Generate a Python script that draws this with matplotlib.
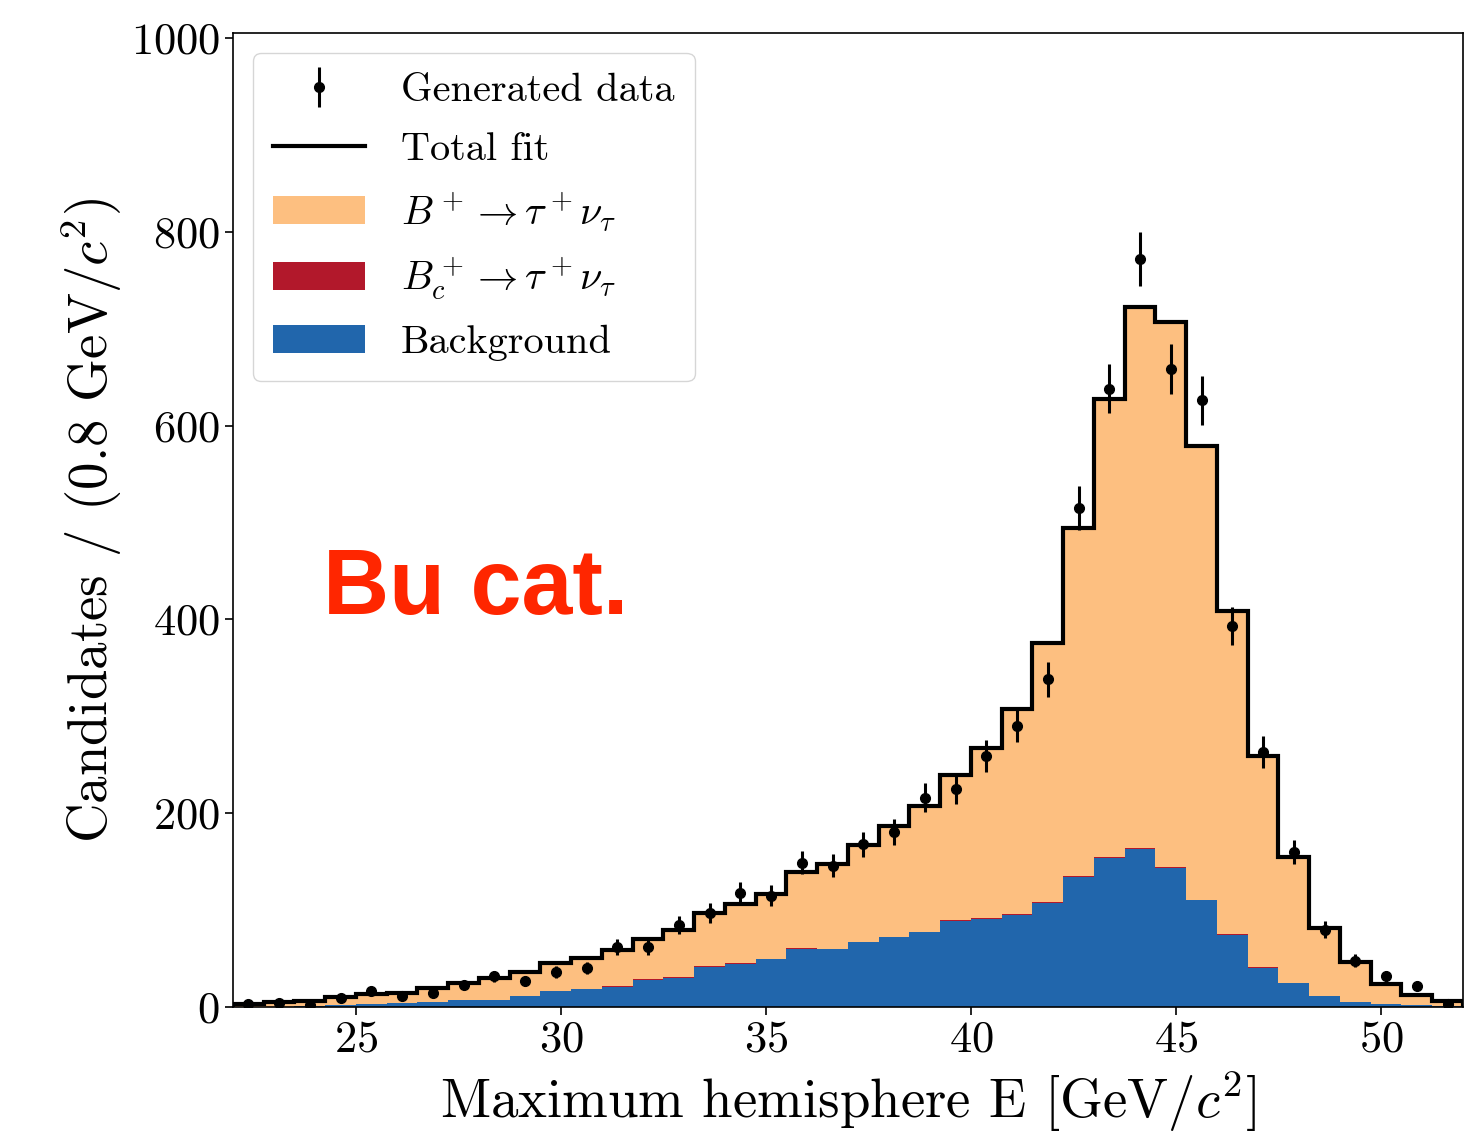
import numpy as np
import matplotlib
matplotlib.use("Agg")
import matplotlib.pyplot as plt

plt.rcParams['font.family'] = 'serif'
plt.rcParams['font.serif'] = ['cmr10']
plt.rcParams['mathtext.fontset'] = 'cm'
plt.rcParams['axes.formatter.use_mathtext'] = True

# ---- data ----
bin_edges = np.linspace(22.0, 52.0, 41)   # 40 bins of 0.75 GeV

background = [0.3, 0.5, 0.8, 1.7, 3.0, 3.8, 4.8, 7.0, 7.5, 11.4,
              16.5, 18.6, 21.0, 28.3, 30.3, 41.7, 44.8, 49.3, 60.3, 59.6,
              66.9, 72.1, 77.2, 88.9, 90.7, 94.8, 107.3, 134.1, 153.4, 163.0,
              143.4, 110.0, 74.5, 40.7, 24.5, 11.7, 5.5, 3.0, 1.7, 1.0]

bc_signal = [0.0, 0.0, 0.0, 0.0, 0.1, 0.1, 0.1, 0.1, 0.1, 0.2,
             0.2, 0.2, 0.2, 0.3, 0.3, 0.4, 0.4, 0.4, 0.5, 0.5,
             0.5, 0.6, 0.6, 0.7, 0.7, 0.8, 0.9, 1.1, 1.2, 1.3,
             1.2, 0.9, 0.6, 0.3, 0.2, 0.1, 0.1, 0.0, 0.0, 0.0]

total_fit = [3.0, 5.0, 6.5, 10.0, 13.0, 15.0, 19.5, 25.0, 29.5, 36.0,
             45.5, 51.0, 59.0, 70.5, 79.5, 97.0, 106.5, 117.0, 139.0, 148.0,
             167.0, 187.0, 207.0, 239.0, 267.0, 308.0, 376.0, 494.0, 627.5, 722.0,
             707.0, 579.0, 409.0, 259.0, 155.0, 81.5, 46.0, 24.0, 12.8, 6.2]

generated_data = [3, 4, 2, 9, 17, 11, 15, 23, 32, 27,
                  36, 40, 62, 62, 85, 97, 118, 115, 149, 146,
                  168, 181, 216, 225, 259, 290, 338, 515, 638, 772,
                  658, 626, 393, 263, 160, 80, 48, 32, 22, 3]

bkg = np.array(background)
bc = np.array(bc_signal)
tot = np.array(total_fit)
dat = np.array(generated_data, dtype=float)
centers = 0.5 * (bin_edges[:-1] + bin_edges[1:])

c_bu = '#fdbf80'
c_bc = '#b2182b'
c_bkg = '#2166ac'

fig = plt.figure(figsize=(14.65, 11.37), dpi=100)
ax = fig.add_axes([0.159, 0.1143, 0.8396, 0.8567])

ax.stairs(bkg, bin_edges, fill=True, color=c_bkg, label='Background')
ax.stairs(bkg + bc, bin_edges, baseline=bkg, fill=True, color=c_bc,
          label=r'$B_c^+ \to \tau^+ \nu_\tau$')
ax.stairs(tot, bin_edges, baseline=bkg + bc, fill=True, color=c_bu,
          label=r'$B^+ \to \tau^+ \nu_\tau$')
ax.stairs(tot, bin_edges, color='black', lw=3, label='Total fit')
ax.errorbar(centers, dat, yerr=np.sqrt(dat), fmt='o', color='black',
            ms=7, elinewidth=2.2, capsize=0, label='Generated data')

ax.set_xlim(22, 52)
ax.set_ylim(0, 1005)
ax.set_xticks([25, 30, 35, 40, 45, 50])
ax.set_yticks([0, 200, 400, 600, 800, 1000])
ax.tick_params(axis='both', labelsize=32, direction='out', length=6, width=1.2)
for s in ax.spines.values():
    s.set_linewidth(1.2)

ax.set_xlabel(r'Maximum hemisphere E [GeV/$c^2$]', fontsize=39.5, labelpad=6)
ax.set_ylabel(r'Candidates / (0.8 GeV/$c^2$)', fontsize=39.5, labelpad=5)

ax.text(24.2, 406, 'Bu cat.', color='#ff2600', fontsize=66,
        fontweight='bold', family='Liberation Sans')

h, l = ax.get_legend_handles_labels()
order = ['Generated data', 'Total fit', r'$B^+ \to \tau^+ \nu_\tau$',
         r'$B_c^+ \to \tau^+ \nu_\tau$', 'Background']
hs = [h[l.index(o)] for o in order]
ax.legend(hs, order, loc='upper left', fontsize=29, handlelength=2.27,
          handletextpad=0.9, labelspacing=0.55, borderpad=0.5,
          borderaxespad=0.5)

fig.savefig('out.png', dpi=100)
